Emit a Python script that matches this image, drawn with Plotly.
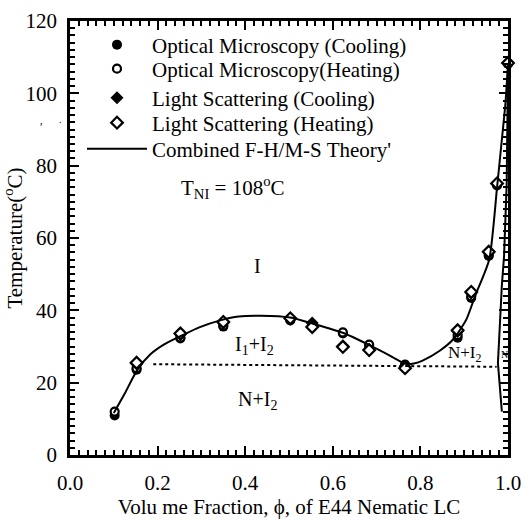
import plotly.graph_objects as go

# ---- data ----
om_cool_x = [0.102, 0.152, 0.252, 0.350, 0.503, 0.553, 0.623, 0.683, 0.765, 0.885, 0.916, 0.956, 0.975, 1.000]
om_cool_y = [10.9, 23.6, 32.2, 35.5, 37.2, 36.0, 33.6, 30.2, 25.0, 32.4, 43.4, 55.0, 74.5, 108.2]
om_heat_x = [0.102, 0.152, 0.252, 0.350, 0.503, 0.553, 0.623, 0.683, 0.765, 0.885, 0.916, 0.956, 0.975, 1.000]
om_heat_y = [12.0, 24.0, 32.5, 35.8, 37.4, 35.8, 33.9, 30.5, 24.8, 33.2, 43.9, 55.4, 74.8, 108.2]
ls_cool_x = [0.152, 0.252, 0.350, 0.503, 0.553, 0.623, 0.683, 0.765, 0.885, 0.916, 0.956, 0.975, 1.000]
ls_cool_y = [25.2, 33.4, 36.6, 37.7, 36.5, 30.2, 29.2, 24.3, 34.2, 44.8, 56.0, 74.9, 108.3]
ls_heat_x = [0.152, 0.252, 0.350, 0.503, 0.553, 0.623, 0.683, 0.765, 0.885, 0.916, 0.956, 0.975, 1.000]
ls_heat_y = [25.5, 33.6, 36.8, 37.8, 35.4, 29.9, 29.0, 24.0, 34.5, 45.1, 56.2, 75.1, 108.4]

theory_x = [0.100, 0.125, 0.154, 0.183, 0.215, 0.253, 0.295, 0.345, 0.385, 0.435, 0.503, 0.555,
            0.623, 0.685, 0.725, 0.755, 0.770, 0.785, 0.805, 0.845, 0.875, 0.905, 0.925, 0.957,
            0.975, 0.985, 0.994, 1.000]
theory_y = [11.6, 17.0, 23.6, 27.8, 30.6, 32.9, 35.3, 37.3, 38.3, 38.5, 38.0, 36.3,
            33.8, 30.3, 27.8, 25.8, 25.1, 25.3, 26.1, 28.9, 32.0, 37.5, 44.0, 54.0,
            74.0, 86.0, 97.0, 108.0]

nem_x = [1.000, 0.997, 0.991, 0.986, 0.977, 0.986]
nem_y = [108.0, 75.0, 55.0, 47.0, 25.4, 12.0]

dot_x = [0.19, 0.974]
dot_y = [25.1, 24.4]

x_range = [0.0, 1.0]
y_range = [0, 120]

FONT = "Liberation Serif"
TICKC = "black"
W, H = 526, 521
L, R, T, B = 70, 18, 21, 66
pw, ph = W - L - R, H - T - B


def px_x(p):
    return (p - L) / pw


def px_y(p):
    return 1 - (p - T) / ph


fig = go.Figure()
fig.add_trace(go.Scatter(x=om_cool_x, y=om_cool_y, mode="markers", name="Optical Microscopy (Cooling)",
                         legend="legend", cliponaxis=False,
                         marker=dict(symbol="circle", size=10, color="black", line=dict(width=0))))
fig.add_trace(go.Scatter(x=om_heat_x, y=om_heat_y, mode="markers", name="Optical Microscopy(Heating)",
                         legend="legend2", cliponaxis=False,
                         marker=dict(symbol="circle", size=8, color="white", line=dict(width=2.2, color="black"))))
fig.add_trace(go.Scatter(x=ls_cool_x, y=ls_cool_y, mode="markers", name="Light Scattering (Cooling)",
                         legend="legend3", cliponaxis=False,
                         marker=dict(symbol="diamond", size=10, color="black", line=dict(width=0))))
fig.add_trace(go.Scatter(x=ls_heat_x, y=ls_heat_y, mode="markers", name="Light Scattering (Heating)",
                         legend="legend4", cliponaxis=False,
                         marker=dict(symbol="diamond", size=9, color="white", line=dict(width=2.2, color="black"))))
fig.add_trace(go.Scatter(x=theory_x, y=theory_y, mode="lines", name="Combined F-H/M-S Theory'",
                         legend="legend5", cliponaxis=False,
                         line=dict(color="black", width=2, shape="spline", smoothing=0.6)))
fig.add_trace(go.Scatter(x=nem_x, y=nem_y, mode="lines", showlegend=False,
                         line=dict(color="black", width=2)))
fig.add_trace(go.Scatter(x=dot_x, y=dot_y, mode="lines", showlegend=False,
                         line=dict(color="black", width=2, dash="dot")))

region_labels = [
    (0.427, 52.2, "I", 20),
    (0.422, 30.4, "I<sub>1</sub>+I<sub>2</sub>", 20),
    (0.429, 15.2, "N+I<sub>2</sub>", 20),
    (0.902, 27.9, "N+I<sub>2</sub>", 17),
    (0.991, 27.9, "N", 10),
]
annotations = [dict(x=x, y=y, text=t, xref="x", yref="y", showarrow=False,
                    font=dict(family=FONT, size=s, color="black")) for x, y, t, s in region_labels]
annotations.append(dict(x=px_x(233), y=px_y(187), xref="paper", yref="paper",
                        text="T<sub>NI</sub> = 108<sup>o</sup>C", showarrow=False,
                        font=dict(family=FONT, size=21, color="black"),
                        xanchor="center", yanchor="middle"))
# small stray marks in the left margin of the original figure
annotations.append(dict(x=px_x(38), y=px_y(118), xref="paper", yref="paper", text="\u02b9",
                        showarrow=False, font=dict(family=FONT, size=12, color="black")))
annotations.append(dict(x=px_x(57), y=px_y(112), xref="paper", yref="paper", text=".",
                        showarrow=False, font=dict(family=FONT, size=10, color="black")))

row_y = [45, 69, 98, 123, 149]
ITEMW = 60
LEG_LEFT = 82
legends = {}
for i, ry in enumerate(row_y):
    key = "legend" if i == 0 else f"legend{i + 1}"
    legends[key] = dict(x=px_x(LEG_LEFT), y=px_y(ry), xanchor="left", yanchor="middle",
                        bgcolor="rgba(0,0,0,0)", borderwidth=0,
                        font=dict(family=FONT, size=21, color="black"),
                        itemwidth=ITEMW, tracegroupgap=0)

fig.update_layout(
    width=W, height=H,
    margin=dict(l=L, r=R, t=T, b=B, autoexpand=False),
    paper_bgcolor="white", plot_bgcolor="white",
    font=dict(family=FONT, color="black"),
    showlegend=True,
    annotations=annotations,
    **legends,
)
axis_common = dict(ticks="inside", ticklen=9, tickwidth=2, tickcolor=TICKC,
                   showline=True, linecolor="black", linewidth=2.5, mirror="allticks",
                   showgrid=False, zeroline=False, automargin=False, layer="above traces")
fig.update_xaxes(range=x_range, tickmode="linear", tick0=0, dtick=0.2, tickformat=".1f",
                 minor=dict(ticks="inside", tick0=0, dtick=0.02, ticklen=5, tickwidth=2, tickcolor=TICKC,
                            showgrid=False),
                 tickfont=dict(family=FONT, size=21, color="black"), ticklabelstandoff=7,
                 title=dict(text="Volu me Fraction, \u03d5, of E44 Nematic LC",
                            font=dict(family=FONT, size=21, color="black"), standoff=6),
                 **axis_common)
fig.update_yaxes(range=y_range, tickmode="linear", tick0=0, dtick=20,
                 minor=dict(ticks="inside", tick0=0, dtick=2, ticklen=5, tickwidth=2, tickcolor=TICKC,
                            showgrid=False),
                 tickfont=dict(family=FONT, size=21, color="black"), ticklabelstandoff=6,
                 title=dict(text="Temperature(<sup>o</sup>C)",
                            font=dict(family=FONT, size=21, color="black"), standoff=4),
                 **axis_common)

fig.write_html("out.html", config={"displayModeBar": False},
               post_script="document.body.style.margin='0px';")
